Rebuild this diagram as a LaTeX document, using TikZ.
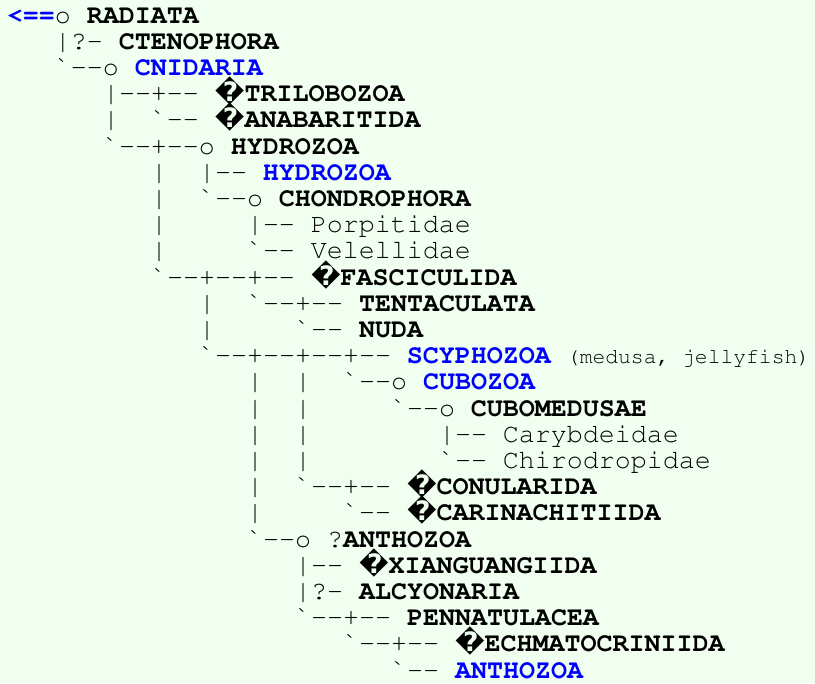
\documentclass[tikz,border=0pt]{standalone}
\usepackage[T1]{fontenc}
\usepackage{fontspec}
\usepackage{tikz}
\newfontfamily\repfont{DejaVu Sans}
\definecolor{fond}{RGB}{240,255,240}
\definecolor{lien}{RGB}{0,0,255}
\newcommand{\tx}[1]{\textbf{#1}}
\newcommand{\bl}[1]{\textcolor{lien}{\textbf{#1}}}
\newcommand{\q}{{\repfont\bfseries ^^^^fffd}}
\newcommand{\petit}[1]{{\fontsize{16}{19}\selectfont #1}}
% tree glyphs
\newcommand{\g}{\char0}
\newcommand{\dd}{-{}-}

\begin{document}
\begin{tikzpicture}[x=0.75pt,y=-0.75pt,
  ligne/.style={anchor=base west,inner sep=0pt,outer sep=0pt,
    font=\fontencoding{T1}\fontfamily{pcr}\fontsize{20}{24}\selectfont}]
\useasboundingbox (0,0) rectangle (815,683);
\fill[fond] (0,0) rectangle (815,683);

\node[ligne] (radiata) at (7,23) {\bl{<==}o \tx{RADIATA}};
\node[ligne] (cteno) at (55,49.2) {|?- \tx{CTENOPHORA}};
\node[ligne] (cnid) at (55,75.4) {\g\dd o \bl{CNIDARIA}};
\node[ligne] (trilo) at (103,101.6) {|\dd+\dd{} \q\tx{TRILOBOZOA}};
\node[ligne] (anaba) at (103,127.8) {|~~\g\dd{} \q\tx{ANABARITIDA}};
\node[ligne] (hydro) at (103,154) {\g\dd+\dd o \tx{HYDROZOA}};
\node[ligne] (hydrob) at (151,180.2) {|~~|\dd{} \bl{HYDROZOA}};
\node[ligne] (chondro) at (151,206.4) {|~~\g\dd o \tx{CHONDROPHORA}};
\node[ligne] (porpi) at (151,232.6) {|~~~~~|\dd{} Porpitidae};
\node[ligne] (velel) at (151,258.8) {|~~~~~\g\dd{} Velellidae};
\node[ligne] (fasci) at (151,285) {\g\dd+\dd+\dd{} \q\tx{FASCICULIDA}};
\node[ligne] (tenta) at (199,311.2) {|~~\g\dd+\dd{} \tx{TENTACULATA}};
\node[ligne] (nuda) at (199,337.4) {|~~~~~\g\dd{} \tx{NUDA}};
\node[ligne] (scypho) at (199,363.6) {\g\dd+\dd+\dd+\dd{} \bl{SCYPHOZOA} \petit{(medusa, jellyfish)}};
\node[ligne] (cubo) at (247,389.8) {|~~|~~\g\dd o \bl{CUBOZOA}};
\node[ligne] (cubomed) at (247,416) {|~~|~~~~~\g\dd o \tx{CUBOMEDUSAE}};
\node[ligne] (caryb) at (247,442.2) {|~~|~~~~~~~~|\dd{} Carybdeidae};
\node[ligne] (chiro) at (247,468.4) {|~~|~~~~~~~~\g\dd{} Chirodropidae};
\node[ligne] (conul) at (247,494.6) {|~~\g\dd+\dd{} \q\tx{CONULARIDA}};
\node[ligne] (carin) at (247,520.8) {|~~~~~\g\dd{} \q\tx{CARINACHITIIDA}};
\node[ligne] (antho) at (247,547) {\g\dd o ?\tx{ANTHOZOA}};
\node[ligne] (xiang) at (295,573.2) {|\dd{} \q\tx{XIANGUANGIIDA}};
\node[ligne] (alcyo) at (295,599.4) {|?- \tx{ALCYONARIA}};
\node[ligne] (penna) at (295,625.6) {\g\dd+\dd{} \tx{PENNATULACEA}};
\node[ligne] (echma) at (343,651.8) {\g\dd+\dd{} \q\tx{ECHMATOCRINIIDA}};
\node[ligne] (anthob) at (391,678) {\g\dd{} \bl{ANTHOZOA}};

\end{tikzpicture}
\end{document}
